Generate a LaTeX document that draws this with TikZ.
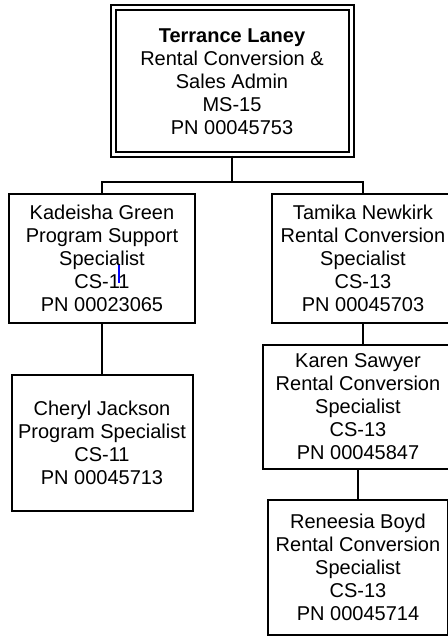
\documentclass[tikz,border=0pt]{standalone}
\usepackage{fontspec}
\setmainfont{Liberation Sans}
\usepackage{tikz}

\tikzset{
  post/.style={draw=black, line width=1pt, align=center, inner sep=0pt,
    font=\fontsize{10}{11.5}\selectfont},
  head/.style={post, double, line width=1pt, double distance=1.5pt},
  wire/.style={draw=black, line width=0.9pt},
}

\begin{document}
\begin{tikzpicture}[x=0.5pt, y=-0.5pt]
\useasboundingbox (0,0) rectangle (448,636);

\begin{scope}
    \node[head, minimum width=119pt, minimum height=73.5pt] (tl) at (232,81.5)
        {\textbf{Terrance Laney}\\Rental Conversion \&\\Sales Admin\\MS-15\\PN 00045753};
    \node[post, minimum width=93pt, minimum height=64.5pt] (kg) at (102,258.5)
        {Kadeisha Green\\Program Support\\Specialist\\CS-11\\PN 00023065};
    \node[post, minimum width=91pt, minimum height=64.5pt] (tn) at (363,258.5)
        {Tamika Newkirk\\Rental Conversion\\Specialist\\CS-13\\PN 00045703};
    \node[post, minimum width=90.5pt, minimum height=68pt] (cj) at (102,443)
        {Cheryl Jackson\\Program Specialist\\CS-11\\PN 00045713};
    \node[post, minimum width=95pt, minimum height=62pt] (ks) at (358,407)
        {Karen Sawyer\\Rental Conversion\\Specialist\\CS-13\\PN 00045847};
    \node[post, minimum width=90pt, minimum height=67.5pt] (rb) at (358,567.5)
        {Reneesia Boyd\\Rental Conversion\\Specialist\\CS-13\\PN 00045714};
\end{scope}

% text cursor
\draw[blue, line width=0.6pt] (119,265) -- (119,283);

\begin{scope}[every path/.style={wire}]
    \path (tl.south) -- ++(0,26) coordinate (bar);
    \draw (tl.south) -- (bar);
    \draw (bar) -| (kg.north);
    \draw (bar) -| (tn.north);
    \draw (kg.south) -- (cj.north);
    \draw (tn.south) -- (tn.south |- ks.north);
    \draw (ks.south) -- (rb.north);
\end{scope}
\end{tikzpicture}
\end{document}
